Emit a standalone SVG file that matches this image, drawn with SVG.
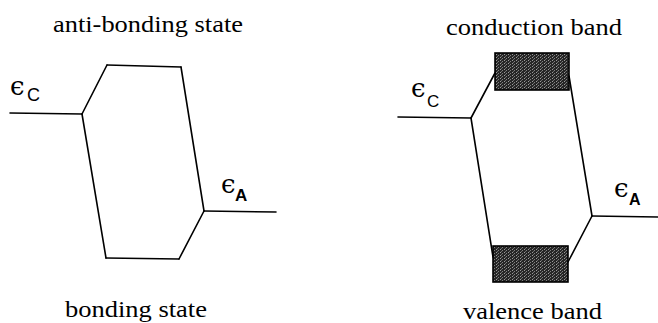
<svg xmlns="http://www.w3.org/2000/svg" width="658" height="323" viewBox="0 0 658 323">
<style>
.ln{stroke:#000;stroke-width:1.6;fill:none;stroke-linecap:round;stroke-linejoin:round}
.ttl{font-family:'Liberation Serif','Times New Roman','DejaVu Serif',serif;font-size:24px;fill:#000}
.eps{font-family:'DejaVu Serif','Liberation Serif',serif;font-size:26px;fill:#000}
.subC{font-family:'Liberation Sans',Arial,sans-serif;font-size:18px;fill:#000}
.subA{font-family:'Liberation Sans',Arial,sans-serif;font-size:17px;font-weight:bold;fill:#000}
.band{fill:url(#stip);stroke:#000;stroke-width:1.6}
</style>
<defs>
<pattern id="stip" width="4" height="3" patternUnits="userSpaceOnUse">
<rect width="4" height="3" fill="#262626"/>
<rect x="0" y="0" width="1" height="1" fill="#9a9a9a"/>
<rect x="2" y="1" width="1" height="1" fill="#808080"/>
<rect x="1" y="2" width="1" height="1" fill="#6a6a6a"/>
</pattern>
</defs>
<g id="left-panel">
<g id="title-antibonding"><text class="ttl" x="53" y="32" textLength="190" lengthAdjust="spacingAndGlyphs">anti-bonding state</text></g>
<g id="level-eC-left">
<line class="ln" x1="10" y1="113" x2="82" y2="114"/>
<text class="eps" x="10" y="95">ϵ</text><text class="subC" x="27" y="101">C</text>
</g>
<g id="antibonding-level"><line class="ln" x1="107" y1="65" x2="181" y2="67"/></g>
<g id="level-eA-left">
<line class="ln" x1="204" y1="211" x2="276" y2="212"/>
<text class="eps" x="221" y="193">ϵ</text><text class="subA" x="235" y="201">A</text>
</g>
<g id="bonding-level"><line class="ln" x1="106" y1="258" x2="179" y2="259"/></g>
<g id="title-bonding"><text class="ttl" x="65" y="317" textLength="142" lengthAdjust="spacingAndGlyphs">bonding state</text></g>
</g>
<g id="right-panel">
<g id="title-conduction"><text class="ttl" x="446" y="35" textLength="176" lengthAdjust="spacingAndGlyphs">conduction band</text></g>
<g id="level-eC-right">
<line class="ln" x1="398" y1="117" x2="471" y2="118"/>
<text class="eps" x="411" y="97">ϵ</text><text class="subC" x="427" y="107" style="font-size:17px">C</text>
</g>
<g id="conduction-band"><rect class="band" x="495" y="53" width="74" height="37"/></g>
<g id="level-eA-right">
<line class="ln" x1="592" y1="216" x2="658" y2="217"/>
<text class="eps" x="614" y="197">ϵ</text><text class="subA" x="629" y="205" style="font-size:16px">A</text>
</g>
<g id="valence-band"><rect class="band" x="493" y="246" width="75" height="36"/></g>
<g id="title-valence"><text class="ttl" x="463" y="319" textLength="139" lengthAdjust="spacingAndGlyphs">valence band</text></g>
</g>
<g id="connectors">
<line class="ln" x1="82" y1="114" x2="107" y2="65"/>
<line class="ln" x1="181" y1="67" x2="204" y2="211"/>
<line class="ln" x1="82" y1="114" x2="106" y2="258"/>
<line class="ln" x1="179" y1="259" x2="204" y2="211"/>
<line class="ln" x1="471" y1="118" x2="495" y2="73"/>
<line class="ln" x1="569" y1="76" x2="592" y2="216"/>
<line class="ln" x1="471" y1="118" x2="493" y2="257"/>
<line class="ln" x1="568" y1="262" x2="592" y2="216"/>
</g>
</svg>
